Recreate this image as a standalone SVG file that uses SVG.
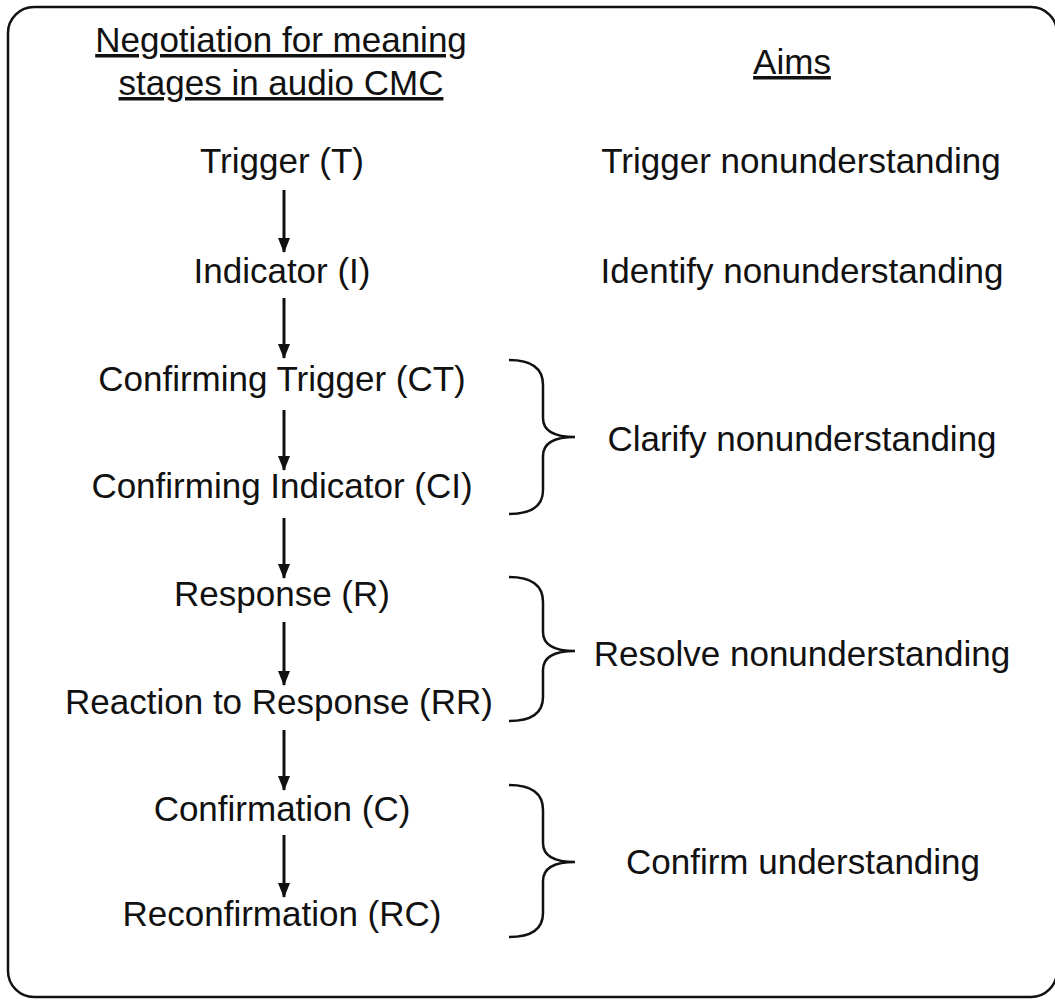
<svg xmlns="http://www.w3.org/2000/svg" width="1055" height="1000" viewBox="0 0 1055 1000">
<defs>
<marker id="ah" markerWidth="15" markerHeight="12" refX="14" refY="6" orient="auto" markerUnits="userSpaceOnUse" viewBox="0 0 15 12">
<path d="M0,0 L15,6 L0,12 Z" fill="#111"/>
</marker>
</defs>
<style>
text{font-family:"Liberation Sans",Arial,sans-serif;font-size:35px;fill:#111;text-anchor:middle}
.u{text-decoration:underline}
.c{stroke:#111;stroke-width:3;fill:none}
.b{stroke:#111;stroke-width:2.5;fill:none}
</style>
<rect x="0" y="0" width="1055" height="1000" fill="#fff"/>
<rect x="8" y="7" width="1049" height="990" rx="26" fill="none" stroke="#111" stroke-width="2.5"/>
<g id="headers">
<text class="u" x="281" y="52">Negotiation for meaning</text>
<text class="u" x="281" y="95">stages in audio CMC</text>
<text class="u" x="792" y="74">Aims</text>
</g>
<g id="n-T"><text x="282" y="173">Trigger (T)</text></g>
<g id="n-I"><text x="282" y="283">Indicator (I)</text></g>
<g id="n-CT"><text x="282" y="391">Confirming Trigger (CT)</text></g>
<g id="n-CI"><text x="282" y="498">Confirming Indicator (CI)</text></g>
<g id="n-R"><text x="282" y="606">Response (R)</text></g>
<g id="n-RR"><text x="279" y="714">Reaction to Response (RR)</text></g>
<g id="n-C"><text x="282" y="821">Confirmation (C)</text></g>
<g id="n-RC"><text x="282" y="926">Reconfirmation (RC)</text></g>
<g id="aims">
<text x="801" y="173">Trigger nonunderstanding</text>
<text x="802" y="283">Identify nonunderstanding</text>
<text x="802" y="451">Clarify nonunderstanding</text>
<text x="802" y="666">Resolve nonunderstanding</text>
<text x="803" y="874">Confirm understanding</text>
</g>
<g id="connectors">
<line class="c" x1="284" y1="190" x2="284" y2="252" marker-end="url(#ah)"/>
<line class="c" x1="284" y1="298" x2="284" y2="358" marker-end="url(#ah)"/>
<line class="c" x1="284" y1="410" x2="284" y2="470" marker-end="url(#ah)"/>
<line class="c" x1="284" y1="518" x2="284" y2="578" marker-end="url(#ah)"/>
<line class="c" x1="284" y1="622" x2="284" y2="685" marker-end="url(#ah)"/>
<line class="c" x1="284" y1="730" x2="284" y2="790" marker-end="url(#ah)"/>
<line class="c" x1="284" y1="835" x2="284" y2="897" marker-end="url(#ah)"/>
</g>
<g id="braces">
<path class="b" d="M509,360 Q543,360 543,385 L543,418 Q543,437 575,437 Q543,437 543,456 L543,490 Q543,514 509,514"/>
<path class="b" d="M509,577 Q543,577 543,602 L543,632 Q543,651 575,651 Q543,651 543,670 L543,697 Q543,721 509,721"/>
<path class="b" d="M509,785 Q543,785 543,810 L543,843 Q543,862 575,862 Q543,862 543,881 L543,913 Q543,937 509,937"/>
</g>
</svg>
